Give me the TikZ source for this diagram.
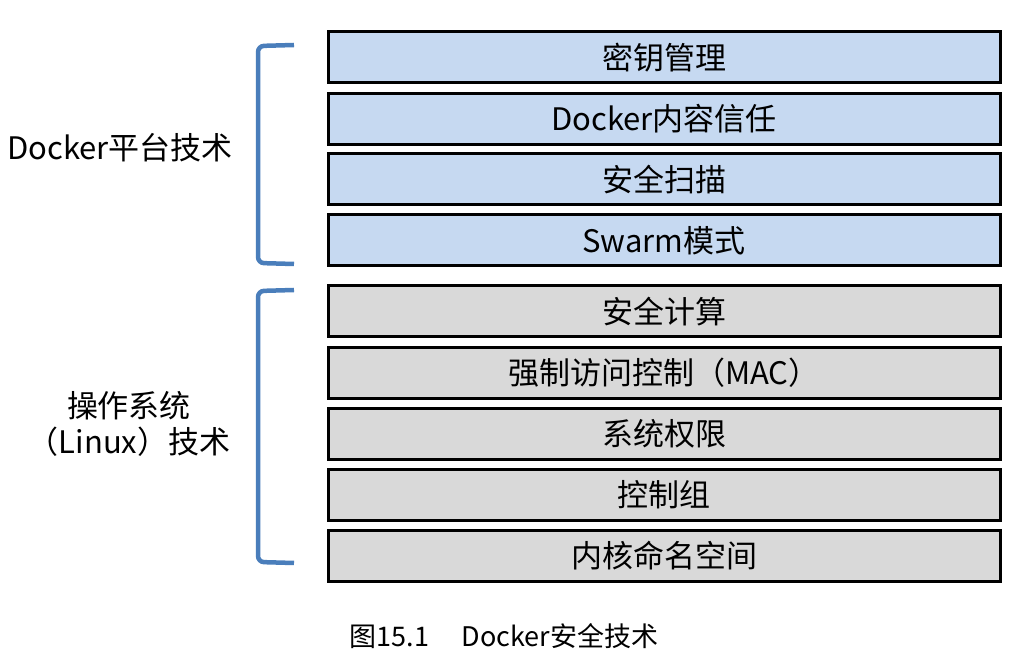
\documentclass[tikz,border=0pt]{standalone}
\usepackage{fontspec}
\setmainfont{Noto Sans CJK SC}
\begin{document}
\begin{tikzpicture}[x=1pt,y=-1pt,
  layer/.style={draw=black,line width=3pt,minimum width=672pt,minimum height=51pt,inner sep=0pt,font=\fontsize{31}{33}\selectfont},
  blue/.style={layer,fill=blueL},
  gray/.style={layer,fill=grayL},
  brace/.style={draw=braceC,line width=4.5pt,rounded corners=6pt},
  side/.style={font=\fontsize{31}{36}\selectfont,align=center}]
\definecolor{blueL}{HTML}{C6D9F1}
\definecolor{grayL}{HTML}{D9D9D9}
\definecolor{braceC}{HTML}{4A7EBB}
\useasboundingbox (0,0) rectangle (1021,668);
\node[blue] (b1) at (664,57.5) {密钥管理};
\node[blue] (b2) at (664,119) {Docker内容信任};
\node[blue] (b3) at (664,179.5) {安全扫描};
\node[blue] (b4) at (664,240.5) {Swarm模式};
\node[gray] (g1) at (664,311.5) {安全计算};
\node[gray] (g2) at (664,373) {强制访问控制（MAC）};
\node[gray] (g3) at (664,434) {系统权限};
\node[gray] (g4) at (664,495) {控制组};
\node[gray] (g5) at (664,556) {内核命名空间};
\draw[brace] (294,45) -- (258,46) -- (258,263) -- (294,264);
\draw[brace] (294,290) -- (258,291) -- (258,562) -- (294,563);
\node[side] (t1) at (120,148) {Docker平台技术};
\node[side] (t2) at (129,424) {操作系统\\（Linux）技术};
\node[font=\fontsize{27}{29}\selectfont] (cap) at (504,636) {图15.1\hspace{1.2em}Docker安全技术};
\end{tikzpicture}
\end{document}
